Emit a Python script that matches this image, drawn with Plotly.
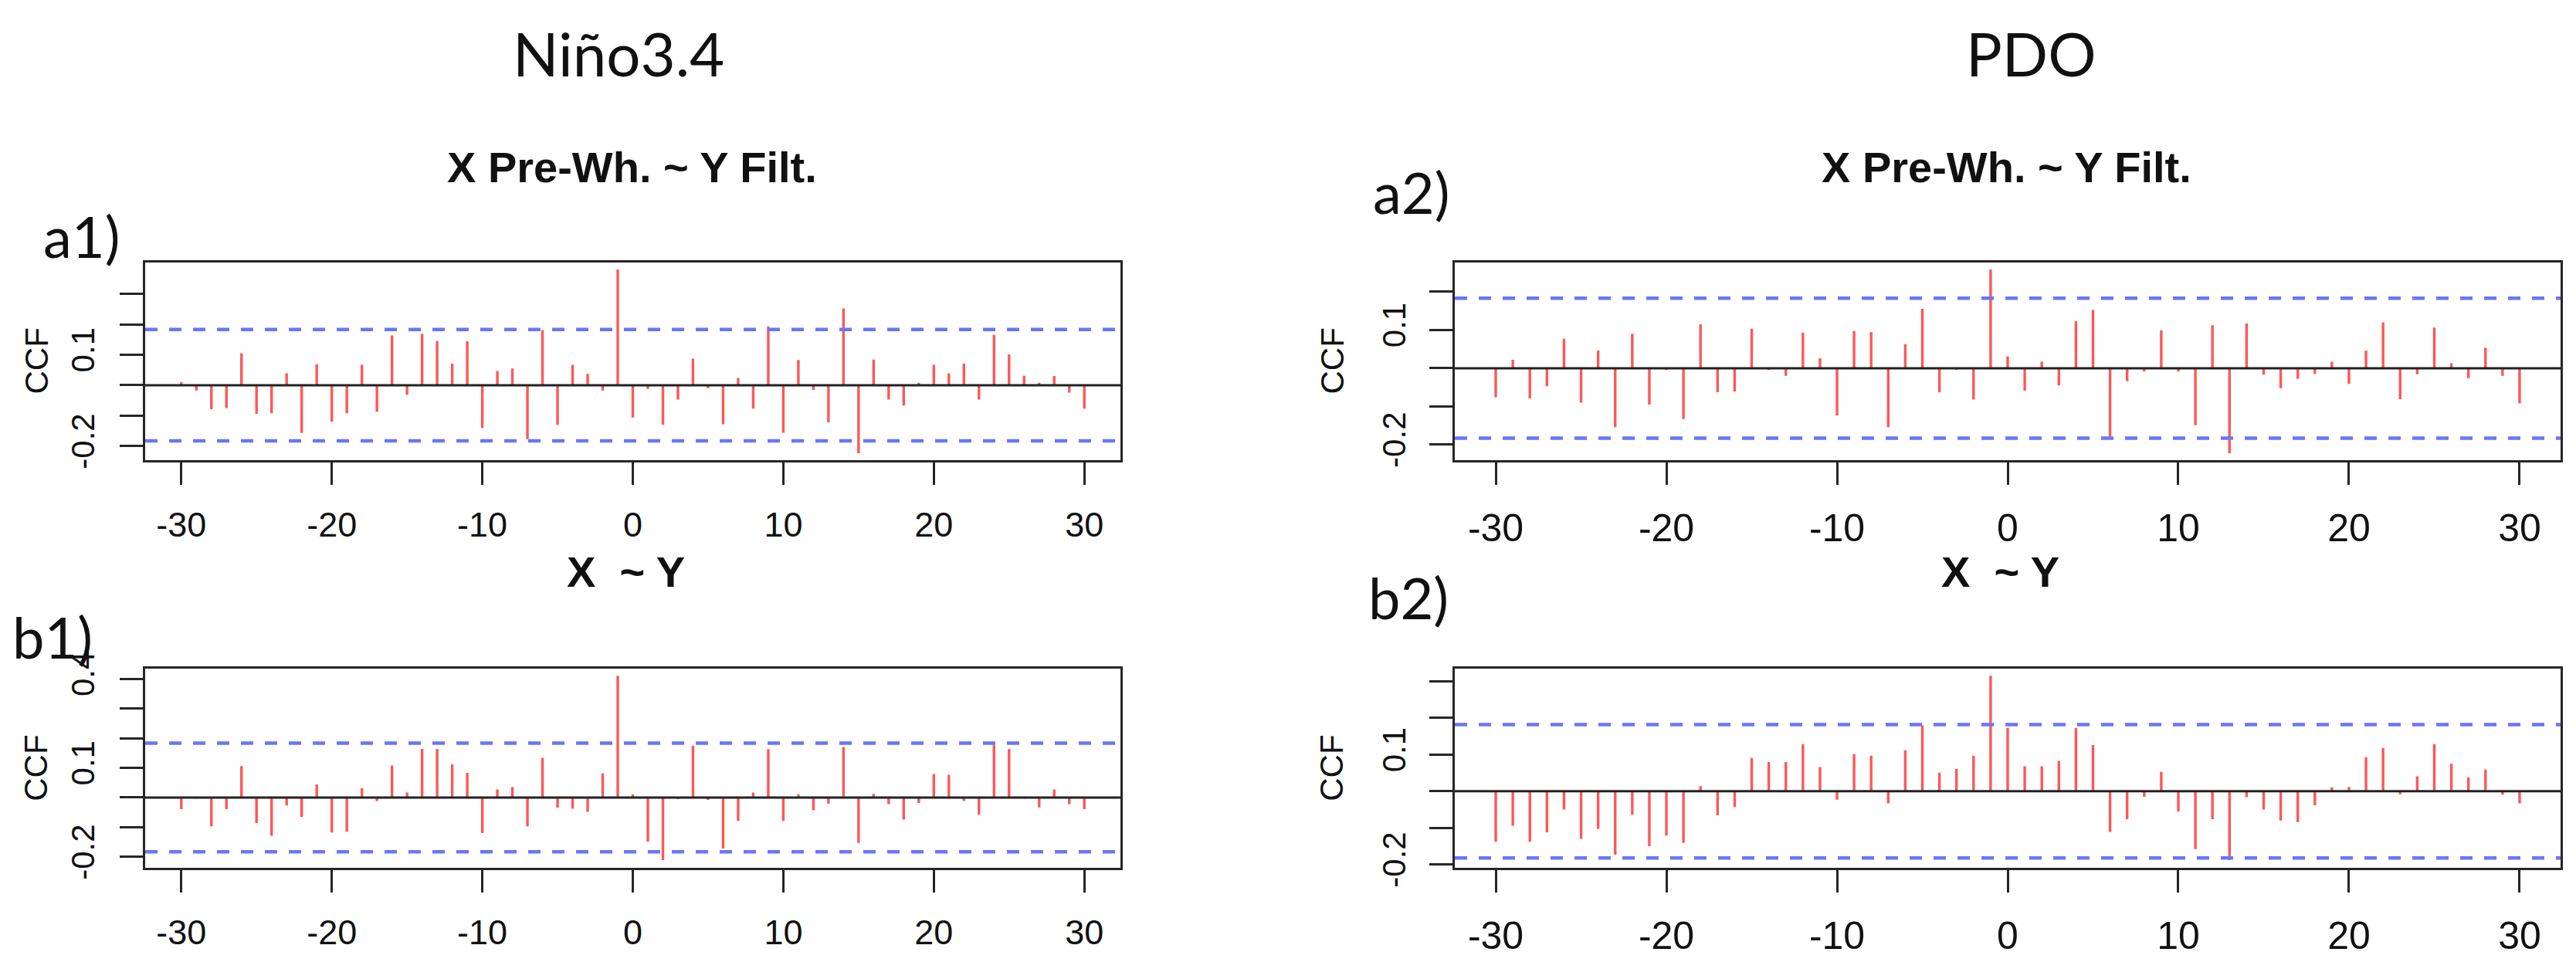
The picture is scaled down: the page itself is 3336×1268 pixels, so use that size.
import plotly.graph_objects as go
from plotly.subplots import make_subplots

# lags shown on every panel
lags = list(range(-30, 31))
x_ticks = [-30, -20, -10, 0, 10, 20, 30]
x_labels = ["-30", "-20", "-10", "0", "10", "20", "30"]

# a1) Nino3.4, X pre-whitened ~ Y filtered
nino_prewh = [0.01, -0.017, -0.079, -0.075, 0.105, -0.094, -0.092, 0.039, -0.157, 0.069,
              -0.12, -0.092, 0.067, -0.087, 0.163, -0.031, 0.169, 0.145, 0.071, 0.144,
              -0.14, 0.047, 0.055, -0.177, 0.181, -0.13, 0.067, 0.037, -0.017, 0.38,
              -0.106, -0.012, -0.13, -0.047, 0.087, -0.01, -0.128, 0.024, -0.077, 0.193,
              -0.156, 0.083, -0.016, -0.122, 0.252, -0.223, 0.084, -0.047, -0.067, 0.008,
              0.067, 0.039, 0.071, -0.047, 0.165, 0.101, 0.031, 0.008, 0.03, -0.024, -0.077]

# b1) Nino3.4, X ~ Y
nino_raw = [-0.039, -0.003, -0.097, -0.039, 0.106, -0.086, -0.129, -0.027, -0.066, 0.044,
            -0.118, -0.115, 0.032, -0.012, 0.108, 0.017, 0.164, 0.164, 0.112, 0.083,
            -0.12, 0.027, 0.036, -0.097, 0.134, -0.034, -0.038, -0.048, 0.081, 0.41,
            0.011, -0.148, -0.211, -0.005, 0.174, -0.008, -0.172, -0.079, 0.017, 0.163,
            -0.079, 0.011, -0.043, -0.021, 0.17, -0.153, 0.012, -0.022, -0.074, -0.018,
            0.079, 0.077, -0.012, -0.057, 0.178, 0.163, -0.003, -0.033, 0.027, -0.022, -0.039]

# a2) PDO, X pre-whitened ~ Y filtered
pdo_prewh = [-0.076, 0.022, -0.079, -0.047, 0.077, -0.09, 0.046, -0.154, 0.09, -0.095,
             -0.005, -0.133, 0.115, -0.063, -0.061, 0.103, -0.005, -0.02, 0.093, 0.026,
             -0.124, 0.097, 0.094, -0.154, 0.063, 0.155, -0.063, -0.005, -0.082, 0.258,
             0.031, -0.059, 0.017, -0.045, 0.123, 0.152, -0.183, -0.034, -0.009, 0.099,
             -0.009, -0.149, 0.112, -0.222, 0.117, -0.017, -0.052, -0.028, -0.015, 0.017,
             -0.041, 0.046, 0.12, -0.081, -0.016, 0.106, 0.013, -0.026, 0.053, -0.02, -0.092]

# b2) PDO, X ~ Y
pdo_raw = [-0.138, -0.094, -0.138, -0.112, -0.05, -0.13, -0.103, -0.173, -0.064, -0.15,
           -0.121, -0.141, 0.014, -0.065, -0.043, 0.091, 0.08, 0.08, 0.129, 0.066,
           -0.023, 0.102, 0.097, -0.033, 0.112, 0.18, 0.051, 0.061, 0.097, 0.315,
           0.173, 0.068, 0.068, 0.083, 0.173, 0.126, -0.111, -0.076, -0.015, 0.053,
           -0.055, -0.158, -0.076, -0.188, -0.016, -0.05, -0.08, -0.084, -0.038, 0.011,
           0.012, 0.093, 0.118, -0.008, 0.041, 0.129, 0.075, 0.038, 0.059, -0.009, -0.033]

# 95% bounds (blue dashed)
ci_bounds = [0.183, 0.183, 0.183, 0.182]

# y ticks per panel (R only prints the labels that fit)
a1_yticks = [-0.2, -0.1, 0.0, 0.1, 0.2, 0.3]
a1_ylabels = ["-0.2", "", "", "0.1", "", ""]
a2_yticks = [-0.2, -0.1, 0.0, 0.1, 0.2]
a2_ylabels = ["-0.2", "", "", "0.1", ""]
b1_yticks = [-0.2, -0.1, 0.0, 0.1, 0.2, 0.3, 0.4]
b1_ylabels = ["-0.2", "", "", "0.1", "", "", "0.4"]
b2_yticks = [-0.2, -0.1, 0.0, 0.1, 0.2, 0.3]
b2_ylabels = ["-0.2", "", "", "0.1", "", ""]

W, H = 3336, 1268


def px(x):
    return x / W


def py(y):
    return 1 - y / H


panels = [
    # values, row, col, ci, yticks, ylabels, x box (px), y box (px)
    (nino_prewh, 1, 1, ci_bounds[0], a1_yticks, a1_ylabels, (188, 1451), (330, 597)),
    (pdo_prewh, 1, 2, ci_bounds[1], a2_yticks, a2_ylabels, (1884, 3316), (330, 597)),
    (nino_raw, 2, 1, ci_bounds[2], b1_yticks, b1_ylabels, (188, 1451), (877, 1145)),
    (pdo_raw, 2, 2, ci_bounds[3], b2_yticks, b2_ylabels, (1884, 3316), (877, 1145)),
]

fig = make_subplots(rows=2, cols=2)

axis_font = dict(family="Liberation Sans, Arial, sans-serif", size=44, color="#111")
frame = "#262626"

for i, (vals, r, c, ci, yt, yl, xbox, ybox) in enumerate(panels):
    n = "" if i == 0 else str(i + 1)
    # vertical spikes, R type="h"
    xs, ys = [], []
    for lag, v in zip(lags, vals):
        xs += [lag, lag, None]
        ys += [0, v, None]
    fig.add_trace(go.Scatter(x=xs, y=ys, mode="lines",
                             line=dict(color="rgba(255,45,45,0.8)", width=3.4),
                             hoverinfo="skip", showlegend=False), row=r, col=c)

    # zero line and confidence bounds
    fig.add_shape(type="line", xref=f"x{n} domain", yref=f"y{n}", x0=0, x1=1, y0=0, y1=0,
                  line=dict(color="#222", width=3))
    for b in (ci, -ci):
        fig.add_shape(type="line", xref=f"x{n} domain", yref=f"y{n}", x0=0, x1=1, y0=b, y1=b,
                      line=dict(color="#6a76f6", width=4.5, dash="16px,15px"))

    lo = min(min(vals), -ci)
    hi = max(max(vals), ci)
    pad = 0.04 * (hi - lo)
    right_col = c == 2

    fig.update_xaxes(domain=[px(xbox[0]), px(xbox[1])], range=[-32.4, 32.4],
                     tickvals=x_ticks, ticktext=x_labels,
                     ticks="outside", ticklen=29, tickwidth=3, tickcolor=frame,
                     showline=True, mirror=True, linecolor=frame, linewidth=3,
                     showgrid=False, zeroline=False,
                     tickfont=dict(axis_font, size=50 if right_col else 45),
                     ticklabelstandoff=13, row=r, col=c)
    fig.update_yaxes(domain=[py(ybox[1]), py(ybox[0])], range=[lo - pad, hi + pad],
                     tickvals=yt, ticktext=yl, tickangle=-90,
                     ticks="outside", ticklen=30, tickwidth=3, tickcolor=frame,
                     showline=True, mirror=True, linecolor=frame, linewidth=3,
                     showgrid=False, zeroline=False, tickfont=dict(axis_font, size=42),
                     ticklabelstandoff=14 if right_col else 16, row=r, col=c)

title_font = dict(family="Lato, Noto Sans, sans-serif", color="#111")
bold_font = dict(family="Liberation Sans, Arial, sans-serif", size=56, color="#111")

texts = [
    ("Niño3.4", 801, 49, dict(title_font, size=78), 0),
    ("PDO", 2630, 49, dict(title_font, size=78), 0),
    ("<b>X Pre-Wh. ~ Y Filt.</b>", 818, 202, bold_font, 0),
    ("<b>X Pre-Wh. ~ Y Filt.</b>", 2598, 202, bold_font, 0),
    ("<b>X\u00a0\u00a0~ Y</b>", 810, 747, bold_font, 0),
    ("<b>X\u00a0\u00a0~ Y</b>", 2590, 747, bold_font, 0),
    ("a1)", 105, 295, dict(title_font, size=74), 0),
    ("a2)", 1827, 235, dict(title_font, size=74), 0),
    ("b1)", 68, 834, dict(title_font, size=74), 0),
    ("b2)", 1824, 781, dict(title_font, size=74), 0),
    ("CCF", 47, 463, dict(axis_font, size=42), -90),
    ("CCF", 47, 1011, dict(axis_font, size=42), -90),
    ("CCF", 1725, 463, dict(axis_font, size=42), -90),
    ("CCF", 1725, 1011, dict(axis_font, size=42), -90),
]
for t, x, y, f, ang in texts:
    fig.add_annotation(text=t, x=px(x), y=py(y), xref="paper", yref="paper",
                       xanchor="center", yanchor="middle", showarrow=False,
                       font=f, textangle=ang)

fig.update_layout(width=W, height=H, margin=dict(l=0, r=0, t=0, b=0),
                  paper_bgcolor="white", plot_bgcolor="white", showlegend=False)

fig.write_html("out.html", config={"displayModeBar": False},
               post_script="document.body.style.margin='0';document.body.style.overflow='hidden';")
